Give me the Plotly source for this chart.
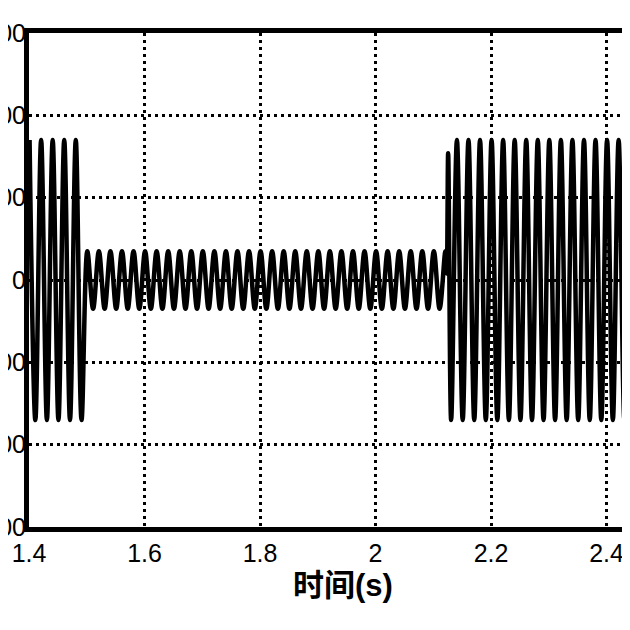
import plotly.graph_objects as go

# Waveform description (50 Hz signal, envelope by segment)
seg_start = [1.401, 1.501, 2.131]      # time of first extreme in each segment (s)
seg_count = [10, 63, 33]               # number of half-cycle extremes in each segment
seg_amp = [170, 35, 170]               # peak amplitude in each segment
seg_sign = [1, 1, -1]                  # sign of the first extreme
half_period = 0.01                     # s (50 Hz)

# short transient at the switching instant
trans_t = [2.1233, 2.1258]
trans_v = [8, 154]

x_ticks = [1.4, 1.6, 1.8, 2.0, 2.2, 2.4]
x_tick_text = ["1.4", "1.6", "1.8", "2", "2.2", "2.4"]
y_ticks = [-300, -200, -100, 0, 100, 200, 300]
y_tick_text = ["-300", "-200", "-100", "0", "100", "200", "300"]

t_pts, v_pts = [], []
for i in range(len(seg_start)):
    if i == 2:
        t_pts += trans_t
        v_pts += trans_v
    s = seg_sign[i]
    for k in range(seg_count[i]):
        t_pts.append(round(seg_start[i] + k * half_period, 5))
        v_pts.append(s * seg_amp[i])
        s = -s

fig = go.Figure(go.Scatter(
    x=t_pts, y=v_pts, mode="lines",
    line=dict(color="black", width=4.5, shape="spline", smoothing=1),
    hoverinfo="skip", showlegend=False,
))

# page body has an 8px margin; figure is placed at (8, 8) in the window
W = H = 622
L, T, B = 21, 25, 103
px_per_unit = 577.5
x_end = 1.4 + (W - L) / px_per_unit
plot_h = H - T - B

axis_font = dict(family="Liberation Sans, Arial", size=25, color="black")

fig.update_layout(
    width=W, height=H,
    margin=dict(l=L, r=0, t=T, b=B, pad=0),
    paper_bgcolor="white", plot_bgcolor="white",
    xaxis=dict(
        range=[1.4, x_end], tickvals=x_ticks, ticktext=x_tick_text,
        showline=True, linecolor="black", linewidth=5, mirror=True,
        showgrid=True, gridcolor="black", gridwidth=3, griddash="3px,4px",
        zeroline=False, ticks="", tickfont=axis_font, automargin=False,
    ),
    yaxis=dict(
        range=[-300, 300], tickvals=y_ticks, ticktext=y_tick_text,
        showline=True, linecolor="black", linewidth=5, mirror=False,
        showgrid=True, gridcolor="black", gridwidth=3, griddash="3px,4px",
        zeroline=False, ticks="", ticklen=0, ticklabelstandoff=-7,
        tickfont=axis_font, automargin=False,
    ),
    annotations=[dict(
        text="<b>时间(s)</b>", xref="paper", yref="paper",
        x=(335 - L) / (W - L), y=-(577 - (H - B)) / plot_h,
        xanchor="center", yanchor="middle", showarrow=False,
        font=dict(family="Liberation Sans, Noto Sans CJK SC", size=31, color="black"),
    )],
)

fig.write_html("out.html")
